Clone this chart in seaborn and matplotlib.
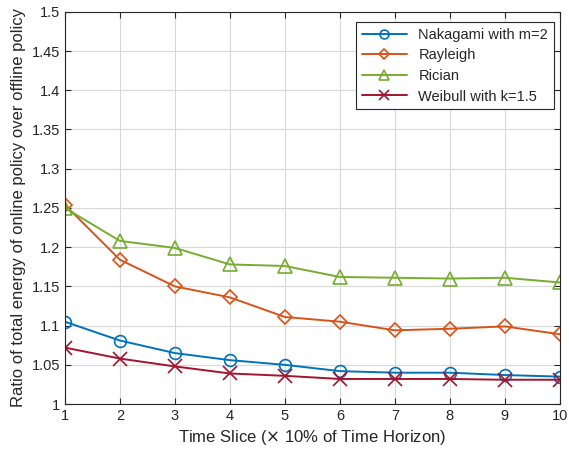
import matplotlib
matplotlib.use("Agg")
import matplotlib.pyplot as plt
import seaborn as sns
import pandas as pd

time_slice = [1, 2, 3, 4, 5, 6, 7, 8, 9, 10]
nakagami = [1.105, 1.081, 1.065, 1.056, 1.050, 1.042, 1.040, 1.040, 1.037, 1.035]
rayleigh = [1.254, 1.184, 1.150, 1.136, 1.111, 1.105, 1.094, 1.096, 1.099, 1.089]
rician = [1.250, 1.208, 1.199, 1.178, 1.176, 1.162, 1.161, 1.160, 1.161, 1.155]
weibull = [1.072, 1.058, 1.048, 1.039, 1.036, 1.032, 1.032, 1.032, 1.031, 1.031]
series_names = ["Nakagami with m=2", "Rayleigh", "Rician", "Weibull with k=1.5"]
x_ticks = [1, 2, 3, 4, 5, 6, 7, 8, 9, 10]
y_ticks = [1, 1.05, 1.1, 1.15, 1.2, 1.25, 1.3, 1.35, 1.4, 1.45, 1.5]
y_tick_labels = ["1", "1.05", "1.1", "1.15", "1.2", "1.25", "1.3", "1.35", "1.4", "1.45", "1.5"]

df = pd.concat([
    pd.DataFrame({"x": time_slice, "y": vals, "series": name})
    for name, vals in zip(series_names, [nakagami, rayleigh, rician, weibull])
])

sns.set_style("white")
plt.rcParams['font.family'] = ['Liberation Sans', 'DejaVu Sans']

colors = ["#0072BD", "#D95319", "#77AC30", "#A2142F"]
markers = ["o", "D", "^", "x"]
msizes = [8.5, 7, 10, 9.5]

fig = plt.figure(figsize=(5.69, 4.53), dpi=100)
ax = fig.add_axes([0.114, 0.108, 0.870, 0.866])

for name, c, m, ms in zip(series_names, colors, markers, msizes):
    sub = df[df["series"] == name]
    sns.lineplot(data=sub, x="x", y="y", ax=ax, color=c, marker=m,
                 markersize=ms, markerfacecolor="none",
                 markeredgecolor=c, markeredgewidth=1.2, linewidth=1.4,
                 label=name)

ax.set_xlim(1, 10)
ax.set_ylim(1, 1.5)
ax.set_xticks(x_ticks)
ax.set_yticks(y_ticks)
ax.set_yticklabels(y_tick_labels)
ax.grid(True, color="#d9d9d9", linewidth=0.8)
ax.tick_params(direction="in", length=4, labelsize=10.5, colors="#262626",
               top=True, right=True, bottom=True, left=True, labelcolor="#262626")
for s in ax.spines.values():
    s.set_color("#262626")
    s.set_linewidth(0.8)
ax.set_xlabel("Time Slice ($\\times$ 10% of Time Horizon)", fontsize=12, color="#262626")
ax.set_ylabel("Ratio of total energy of online policy over offline policy", fontsize=12, color="#262626")

leg = ax.legend(loc="upper right", fontsize=10.5, frameon=True, fancybox=False,
                edgecolor="#262626", framealpha=1, handlelength=3.1, markerscale=0.75,
                bbox_to_anchor=(0.997, 0.985), borderaxespad=0.3, labelspacing=0.45)
leg.get_frame().set_linewidth(0.8)

fig.savefig("out.png", dpi=100)
